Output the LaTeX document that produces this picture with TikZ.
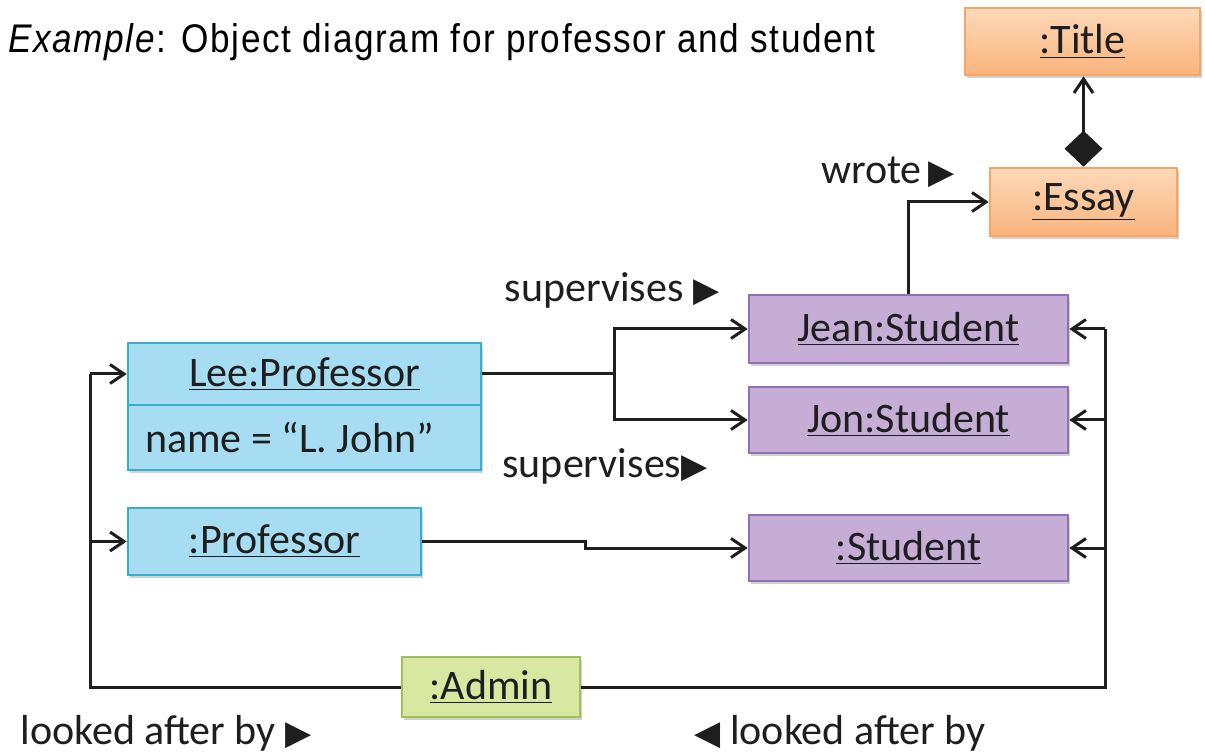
\documentclass[tikz,border=0pt]{standalone}
\usepackage{fontspec}
\setmainfont{Carlito}
\newfontfamily\symfont{DejaVu Sans}
\newfontfamily\headfont[FakeStretch=0.88,LetterSpace=4]{Liberation Sans}
\usetikzlibrary{arrows.meta,shadows}

\definecolor{orangeTop}{HTML}{FDD9BA}
\definecolor{orangeBot}{HTML}{FAB47C}
\definecolor{orangeLine}{HTML}{F8A463}
\definecolor{blueFill}{HTML}{A6DDF3}
\definecolor{blueLine}{HTML}{38AECD}
\definecolor{purpleFill}{HTML}{C6ADD6}
\definecolor{purpleLine}{HTML}{9170B6}
\definecolor{greenFill}{HTML}{D8E7A2}
\definecolor{greenLine}{HTML}{9EC15C}
\definecolor{ink}{HTML}{1E1E1E}

\newcommand{\rtri}{{\symfont\fontsize{17}{17}\selectfont ▶}}
\newcommand{\ltri}{{\symfont\fontsize{17}{17}\selectfont ◀}}

\begin{document}
\begin{tikzpicture}[x=0.5pt,y=-0.5pt,
  obj/.style={draw, line width=1.3pt, inner sep=0pt, text=ink,
    font=\fontsize{21}{24}\selectfont,
    drop shadow={shadow xshift=1pt,shadow yshift=-1.5pt,opacity=0.18,fill=black}},
  orangebox/.style={obj, draw=orangeLine, top color=orangeTop, bottom color=orangeBot},
  bluebox/.style={obj, draw=blueLine, fill=blueFill},
  purplebox/.style={obj, draw=purpleLine, fill=purpleFill},
  greenbox/.style={obj, draw=greenLine, fill=greenFill},
  conn/.style={draw=ink, line width=1.5pt, -{Straight Barb[length=7pt,width=9.5pt,line width=1.5pt]}},
  line/.style={draw=ink, line width=1.5pt},
  lbl/.style={text=ink, inner sep=0pt, font=\fontsize{21}{24}\selectfont}
]
\useasboundingbox (0,0) rectangle (1205,753);

% heading
\node[anchor=base west, inner sep=0pt, text=black, font=\headfont\fontsize{20}{22}\selectfont]
  (heading) at (8,53) {\textit{Example}: Object diagram for professor and student};

% objects
\node[orangebox, minimum width=117.5pt, minimum height=33.5pt] (title) at (1082.5,41.5) {\underline{:Title}};
\node[orangebox, minimum width=93.5pt, minimum height=34pt] (essay) at (1083.5,202) {\underline{:Essay}};

\node[purplebox, minimum width=159.5pt, minimum height=34pt] (jean) at (908.5,329) {\underline{Jean:Student}};
\node[purplebox, minimum width=159.5pt, minimum height=33pt] (jon) at (908.5,420) {\underline{Jon:Student}};
\node[purplebox, minimum width=159.5pt, minimum height=33pt] (stud) at (908.5,548) {\underline{:Student}};

\node[bluebox, minimum width=176.5pt, minimum height=31pt] (leehead) at (304.5,374) {\underline{Lee:Professor}};
\node[bluebox, minimum height=32.5pt, inner xsep=8.5pt] (leeattr) at (304.5,437.5)
  {\makebox[159.5pt][l]{name = “L. John”}};
\node[bluebox, minimum width=146.5pt, minimum height=33.5pt] (prof) at (274.5,541.5) {\underline{:Professor}};

\node[greenbox, minimum width=89pt, minimum height=30pt] (admin) at (491,687) {\underline{:Admin}};

% composition Essay -> Title
\draw[line, {Diamond[length=18pt,width=19pt]}-{Straight Barb[length=7pt,width=9.5pt,line width=1.5pt]}]
  (essay.north) -- (essay.north |- title.south);

% wrote
\draw[conn] (jean.north) |- (essay.west);
\node[lbl] (wrote) at (888,172) {wrote\,\rtri};

% supervises (Lee)
\coordinate (split) at (614,374);
\draw[line] (leehead.east) -- (split);
\draw[conn] (split) |- (jean.west);
\draw[conn] (split) |- (jon.west);
\node[lbl] (sup1) at (612,290) {supervises \rtri};
\node[lbl] (sup2) at (605,466) {supervises\rtri};

% supervises (unnamed professor)
\coordinate (jog) at (585,0);
\draw[conn] (prof.east) -- (prof.east -| jog) |- (stud.west);

% looked after by (left)
\coordinate (lx) at (90,0);
\draw[line] (admin.west) -| (lx |- leehead.west);
\draw[conn] (lx |- leehead.west) -- (leehead.west);
\draw[conn] (lx |- prof.west) -- (prof.west);
\node[lbl] (laf1) at (166,733) {looked after by \rtri};

% looked after by (right)
\coordinate (rx) at (1105,0);
\draw[line] (admin.east) -| (rx |- jean.east);
\draw[conn] (rx |- jean.east) -- (jean.east);
\draw[conn] (rx |- jon.east) -- (jon.east);
\draw[conn] (rx |- stud.east) -- (stud.east);
\node[lbl] (laf2) at (840,733) {\ltri\ looked after by};
\end{tikzpicture}
\end{document}
